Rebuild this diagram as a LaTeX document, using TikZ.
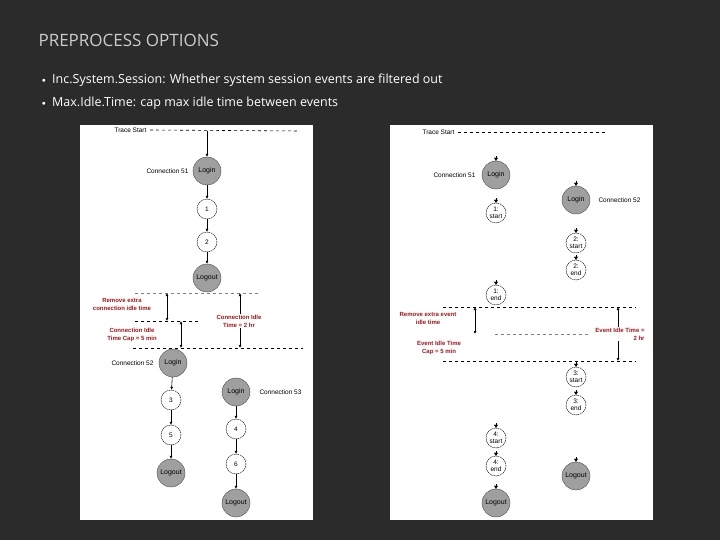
\documentclass[tikz,border=0pt]{standalone}
\usepackage{fontspec}
\setmainfont{Open Sans}
\newfontfamily\arial{Liberation Sans}
\usetikzlibrary{arrows.meta}
\definecolor{bg}{HTML}{2B2B2B}
\definecolor{rd}{HTML}{A0161A}
\begin{document}
\begin{tikzpicture}[x=1pt,y=-1pt,
  big/.style={circle,fill=gray!75,draw=gray!60!black,minimum size=28pt,inner sep=0pt,font=\arial\fontsize{7}{8}\selectfont},
  sm/.style={circle,fill=white,draw=black,dashed,dash pattern=on 1.5pt off 0.6pt,minimum size=20pt,inner sep=0pt,font=\arial\fontsize{6.5}{6.5}\selectfont,align=center},
  lab/.style={font=\arial\fontsize{6.5}{8}\selectfont},
  red/.style={font=\arial\bfseries\fontsize{6}{8}\selectfont,text=rd,align=center},
  dl/.style={dashed,black,line width=0.6pt},
  gl/.style={dashed,gray,line width=0.6pt},
  ar/.style={-{Latex[length=3pt,width=3pt]},line width=0.6pt},
  da/.style={{Latex[length=3pt,width=3pt]}-{Latex[length=3pt,width=3pt]},line width=0.6pt},
  tk/.style={-{Triangle[length=3pt,width=4pt]},line width=0.1pt}]
\fill[bg] (0,0) rectangle (720,540);
\useasboundingbox (0,0) rectangle (720,540);
\node[anchor=west,text=gray!40,font=\fontsize{17}{20}\selectfont] (title) at (35,40) {PREPROCESS OPTIONS};
\node[anchor=west,text=white,font=\fontsize{12.5}{15}\selectfont,inner sep=0pt] (b1) at (52,80) {Inc.System.Session: Whether system session events are filtered out};
\node[anchor=west,text=white,font=\fontsize{12.5}{15}\selectfont,inner sep=0pt] (b2) at (52,103) {Max.Idle.Time: cap max idle time between events};
\node[text=white,font=\fontsize{7}{8}\selectfont] (d1) at (44,81) {$\bullet$};
\node[text=white,font=\fontsize{7}{8}\selectfont] (d2) at (44,104) {$\bullet$};
% left panel
\fill[white] (80,125) rectangle (313,520);
\node[lab,anchor=east] (lts) at (150,130) {Trace Start};
\coordinate (lte) at (300,131);
\draw[dl] (lts.east) -- (lte);
\node[big] (l51) at (207,171) {Login};
\node[lab,anchor=east] (c51) at (192,171) {Connection 51};
\node[sm] (n1) at (207,209) {1};
\node[sm] (n2) at (207,242) {2};
\node[big] (lo1) at (207,278) {Logout};
\coordinate (t51) at (207,131);
\draw[ar] (t51) -- (l51); \draw[ar] (l51) -- (n1); \draw[ar] (n1) -- (n2); \draw[ar] (n2) -- (lo1);
\coordinate (g1a) at (135,293); \coordinate (g1b) at (260,293);
\draw[gl] (g1a) -- (g1b);
\coordinate (g2a) at (135,321); \coordinate (g2b) at (200,321);
\draw[dl] (g2a) -- (g2b);
\coordinate (g3a) at (133,348); \coordinate (g3b) at (303,348);
\draw[dl] (g3a) -- (g3b);
\coordinate (v1a) at (167,293); \coordinate (v1b) at (167,321);
\draw[da] (v1a) -- (v1b);
\coordinate (v2a) at (181,321); \coordinate (v2b) at (181,348);
\draw[da] (v2a) -- (v2b);
\coordinate (v3a) at (240,293); \coordinate (v3b) at (240,348);
\draw[da] (v3a) -- (v3b);
\node[red] (rm1) at (122,304) {Remove extra\\connection idle time};
\node[red,fill=white,inner sep=1pt] (ci2) at (239,321) {Connection Idle\\Time = 2 hr};
\node[red] (ci5) at (132,335) {Connection Idle\\Time Cap = 5 min};
\node[big] (l52) at (173,363) {Login};
\node[lab,anchor=east] (c52) at (157,363) {Connection 52};
\node[sm] (n3) at (171,400) {3};
\node[sm] (n5) at (171,435) {5};
\node[big] (lo2) at (171,473) {Logout};
\draw[ar] (l52) -- (n3); \draw[ar] (n3) -- (n5); \draw[ar] (n5) -- (lo2);
\node[big] (l53) at (236,392) {Login};
\node[lab,anchor=west] (c53) at (256,392) {Connection 53};
\node[sm] (n4) at (236,429) {4};
\node[sm] (n6) at (236,464) {6};
\node[big] (lo3) at (236,503) {Logout};
\draw[ar] (l53) -- (n4); \draw[ar] (n4) -- (n6); \draw[ar] (n6) -- (lo3);
% right panel
\fill[white] (390,125) rectangle (653,520);
\node[lab,anchor=east] (rts) at (458,132) {Trace Start};
\coordinate (rte) at (607,132);
\draw[dl] (rts.east) -- (rte);
\node[big] (r51) at (496,175) {Login};
\node[lab,anchor=east] (rc51) at (479,175) {Connection 51};
\node[sm] (s1) at (496,213) {1:\\start};
\node[big] (r52) at (576,200) {Login};
\node[lab,anchor=west] (rc52) at (595,200) {Connection 52};
\node[sm] (s2) at (576,243) {2:\\start};
\node[sm] (e2) at (576,270) {2:\\end};
\node[sm] (e1) at (496,295) {1:\\end};
\node[sm] (s3) at (576,377) {3:\\start};
\node[sm] (e3) at (576,405) {3:\\end};
\node[sm] (s4) at (496,438) {4:\\start};
\node[sm] (e4) at (496,466) {4:\\end};
\node[big] (ro1) at (496,503) {Logout};
\node[big] (ro2) at (576,476) {Logout};
\foreach \n in {r51,s1,r52,s2,e2,e1,s3,e3,s4,e4,ro1,ro2}{
  \coordinate (\n-t) at ([yshift=5pt]\n.north);
  \draw[tk] (\n-t) -- (\n.north);
}
\coordinate (h1a) at (443,307); \coordinate (h1b) at (636,307);
\draw[dl] (h1a) -- (h1b);
\coordinate (h2a) at (495,334); \coordinate (h2b) at (590,334);
\draw[gl] (h2a) -- (h2b);
\coordinate (h3a) at (443,361); \coordinate (h3b) at (636,361);
\draw[dl] (h3a) -- (h3b);
\coordinate (w1a) at (475,307); \coordinate (w1b) at (475,334);
\draw[da] (w1a) -- (w1b);
\coordinate (w2a) at (618,307); \coordinate (w2b) at (618,361);
\draw[da] (w2a) -- (w2b);
\node[red] (rme) at (428,318) {Remove extra event\\idle time};
\node[red,fill=white,inner sep=1pt] (ei2) at (620,334) {Event Idle Time =\\\hfill 2 hr};
\node[red] (ei5) at (439,348) {Event Idle Time\\Cap = 5 min};
\end{tikzpicture}
\end{document}
